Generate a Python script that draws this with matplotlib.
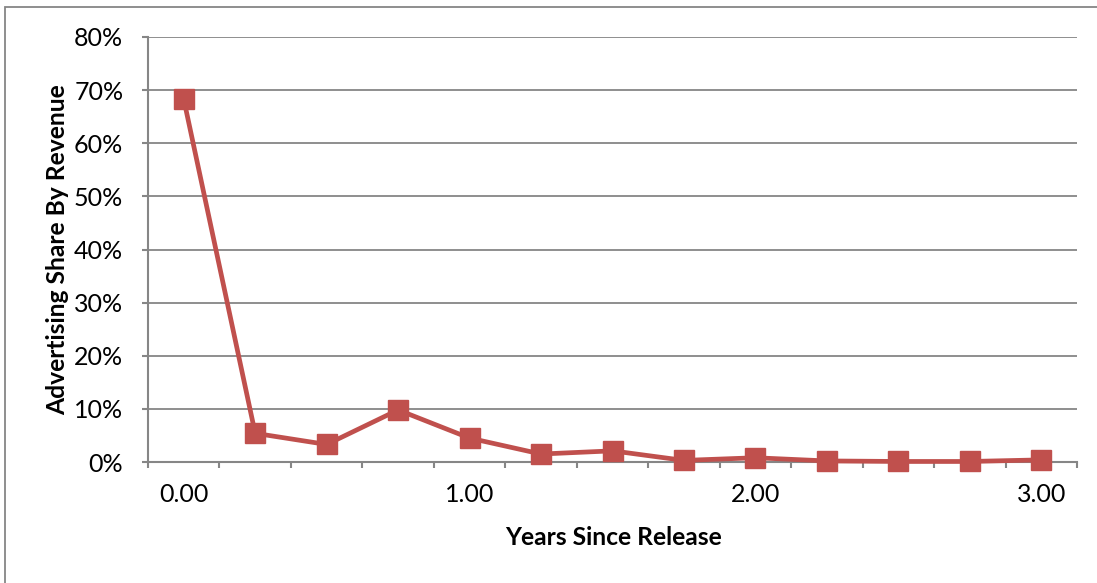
import matplotlib
matplotlib.use("Agg")
import matplotlib.pyplot as plt
from matplotlib.patches import Rectangle
from matplotlib.ticker import FixedLocator, FuncFormatter

plt.rcParams['font.family'] = ['Lato', 'DejaVu Sans']

years = [0.00, 0.25, 0.50, 0.75, 1.00, 1.25, 1.50, 1.75, 2.00, 2.25, 2.50, 2.75, 3.00]
ad_share = [68.3, 5.4, 3.3, 9.8, 4.5, 1.5, 2.1, 0.3, 0.8, 0.2, 0.1, 0.1, 0.4]
y_ticks = [0, 10, 20, 30, 40, 50, 60, 70, 80]
label_every = 4

W, H = 1097, 583
fig = plt.figure(figsize=(W / 100, H / 100), dpi=100)

# chart-area frame (only top and left edges fall inside the image)
fig.patches.append(Rectangle((5 / W, -0.05), 1.2, 1 - 7 / H + 0.05,
                             transform=fig.transFigure, fill=False,
                             edgecolor='#868686', linewidth=1.3))

left, right, top, bottom = 148, 1077, 37, 462
ax = fig.add_axes([left / W, 1 - bottom / H, (right - left) / W, (bottom - top) / H])

grid_color = '#868686'
x = list(range(len(years)))
ax.plot(x, ad_share, color='#C0504D', linewidth=3.4, marker='s',
        markersize=14, markerfacecolor='#C0504D', markeredgecolor='#C0504D',
        zorder=3, clip_on=False)

ax.set_xlim(-0.5, len(years) - 0.5)
ax.set_ylim(0, 80)

for s in ['top', 'right']:
    ax.spines[s].set_visible(False)
for s in ['left', 'bottom']:
    ax.spines[s].set_color(grid_color)
    ax.spines[s].set_linewidth(1.5)

ax.set_yticks(y_ticks)
ax.yaxis.set_major_formatter(FuncFormatter(lambda v, p: f"{v:.0f}%"))
ax.yaxis.grid(True, color=grid_color, linewidth=1.3)
ax.set_axisbelow(True)
ax.tick_params(axis='y', length=4.3, width=1.5, color=grid_color, labelsize=18,
               pad=13.5)

# category boundaries carry the tick marks; labels sit on every fourth category
ax.xaxis.set_minor_locator(FixedLocator([i - 0.5 for i in range(len(years) + 1)]))
label_pos = [i for i in x if i % label_every == 0]
ax.set_xticks(label_pos)
ax.set_xticklabels([f"{years[i]:.2f}" for i in label_pos])
ax.tick_params(axis='x', which='major', length=0, labelsize=18, pad=15)
ax.tick_params(axis='x', which='minor', length=4.3, width=1.5, color=grid_color)

for lbl in ax.get_xticklabels() + ax.get_yticklabels():
    lbl.set_color('black')

fig.text(613 / W, 1 - 537.5 / H, 'Years Since Release', ha='center', va='center',
         fontsize=17.7, fontweight='bold')
fig.text(58 / W, 1 - 249.5 / H, 'Advertising Share By Revenue', ha='center',
         va='center', rotation=90, fontsize=17.7, fontweight='bold')

fig.savefig('out.png', dpi=100)
